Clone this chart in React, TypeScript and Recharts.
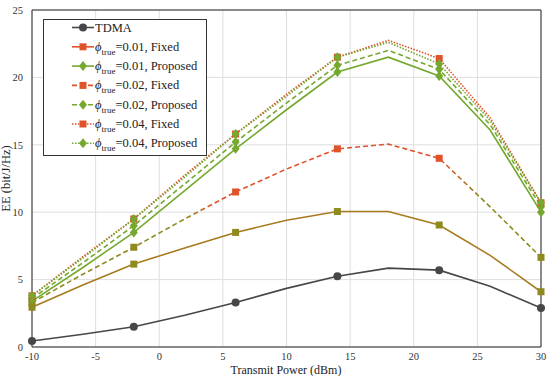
import React from 'react'
import { LineChart, Line, XAxis, YAxis, CartesianGrid, ReferenceLine } from 'recharts'

const powers = [-10, -6, -2, 2, 6, 10, 14, 18, 22, 26, 30]
const tdma = [0.45, 0.95, 1.5, 2.35, 3.3, 4.35, 5.25, 5.85, 5.7, 4.5, 2.9]
const fixed001 = [2.95, 4.6, 6.15, 7.35, 8.5, 9.4, 10.05, 10.05, 9.05, 6.8, 4.1]
const proposed001 = [3.4, 5.9, 8.5, 11.6, 14.7, 17.6, 20.4, 21.5, 20.1, 16.1, 10.0]
const fixed002 = [3.3, 5.4, 7.4, 9.5, 11.5, 13.2, 14.7, 15.05, 14.0, 10.4, 6.65]
const proposed002 = [3.6, 6.25, 9.0, 12.1, 15.2, 18.1, 20.9, 22.0, 20.6, 16.5, 10.4]
const fixed004 = [3.8, 6.7, 9.5, 12.75, 15.8, 18.75, 21.5, 22.75, 21.4, 17.0, 10.7]
const proposed004 = [3.8, 6.6, 9.5, 12.6, 15.8, 18.6, 21.5, 22.6, 21.0, 16.8, 10.7]

const xTicks = [-10, -5, 0, 5, 10, 15, 20, 25, 30]
const yTicks = [0, 5, 10, 15, 20, 25]

const data = powers.map((p, i) => ({
  p,
  tdma: tdma[i],
  f1: fixed001[i],
  p1: proposed001[i],
  f2: fixed002[i],
  p2: proposed002[i],
  f4: fixed004[i],
  p4: proposed004[i],
}))

const GREY = '#474747'
const ORANGE = '#e0522a'
const BROWN = '#a77b1d'
const OLIVE = '#8f8a1f'
const GREEN = '#74a82e'
const FONT = '"Liberation Serif", "Times New Roman", serif'

type Shape = 'circle' | 'square' | 'diamond'

function marker(shape: Shape, cx: number, cy: number, fill: string, key?: string | number) {
  if (shape === 'circle') return <circle key={key} cx={cx} cy={cy} r={4} fill={fill} />
  if (shape === 'square') return <rect key={key} x={cx - 3.5} y={cy - 3.5} width={7} height={7} fill={fill} />
  return <path key={key} d={`M${cx},${cy - 5}L${cx + 4},${cy}L${cx},${cy + 5}L${cx - 4},${cy}Z`} fill={fill} />
}

// markers only every other sample (-10, -2, 6, ...)
const dotFor = (shape: Shape, fill: string | ((i: number) => string)) => (props: any) => {
  const { cx, cy, index } = props
  if (index % 2 !== 0 || cx == null) return <g key={`n${index}`} />
  const c = typeof fill === 'function' ? fill(index) : fill
  return marker(shape, cx, cy, c, `d${index}`)
}

const legendItems = [
  { label: 'TDMA', color: GREY, dash: undefined as string | undefined, shape: 'circle' as Shape, phi: false },
  { label: '=0.01, Fixed', color: ORANGE, dash: undefined, shape: 'square' as Shape, phi: true },
  { label: '=0.01, Proposed', color: GREEN, dash: undefined, shape: 'diamond' as Shape, phi: true },
  { label: '=0.02, Fixed', color: ORANGE, dash: '5 3', shape: 'square' as Shape, phi: true },
  { label: '=0.02, Proposed', color: GREEN, dash: '5 3', shape: 'diamond' as Shape, phi: true },
  { label: '=0.04, Fixed', color: ORANGE, dash: '1.5 1.5', shape: 'square' as Shape, phi: true },
  { label: '=0.04, Proposed', color: GREEN, dash: '1.5 1.5', shape: 'diamond' as Shape, phi: true },
]

function LegendBox() {
  return (
    <svg width={164} height={137} style={{ position: 'absolute', left: 43, top: 19 }}>
      <rect x={0.5} y={0.5} width={163} height={136} fill="#fff" stroke="#333" strokeWidth={1} />
      {legendItems.map((it, i) => {
        const y = 8.5 + i * 19.3
        return (
          <g key={i}>
            <line x1={29} x2={51} y1={y} y2={y} stroke={it.color} strokeWidth={1.6} strokeDasharray={it.dash} />
            {marker(it.shape, 40, y, it.color)}
            <text x={52} y={y + 4} fontFamily={FONT} fontSize={12.5} fill="#222">
              {it.phi ? (
                <>
                  <tspan fontStyle="italic">ϕ</tspan>
                  <tspan dy={4} fontSize={9}>true</tspan>
                  <tspan dy={-4}>{it.label}</tspan>
                </>
              ) : (
                it.label
              )}
            </text>
          </g>
        )
      })}
    </svg>
  )
}

export default function App() {
  const tick = { fontSize: 10.5, fill: '#333', fontFamily: FONT }
  return (
    <div style={{ position: 'absolute', left: 0, top: 0, width: 550, height: 376, background: '#fff' }}>
      <LineChart width={550} height={376} data={data} margin={{ top: 10, right: 9, left: 0, bottom: 0 }}>
        <defs>
          <linearGradient id="fx2" x1="0" y1="0" x2="1" y2="0">
            <stop offset="0" stopColor={OLIVE} />
            <stop offset="0.3" stopColor={OLIVE} />
            <stop offset="0.36" stopColor={ORANGE} />
            <stop offset="0.8" stopColor={ORANGE} />
            <stop offset="0.88" stopColor={OLIVE} />
            <stop offset="1" stopColor={OLIVE} />
          </linearGradient>
        </defs>
        <CartesianGrid stroke="#dedede" strokeWidth={1} />
        <XAxis
          dataKey="p"
          type="number"
          domain={[-10, 30]}
          ticks={xTicks}
          height={29}
          tick={tick}
          tickLine={false}
          tickMargin={0}
          axisLine={{ stroke: '#262626' }}
          label={{
            content: () => (
              <text x={286} y={373.5} textAnchor="middle" fontSize={12} fill="#222" fontFamily={FONT}>
                Transmit Power (dBm)
              </text>
            ),
          }}
        />
        <YAxis
          type="number"
          domain={[0, 25]}
          ticks={yTicks}
          width={32}
          tick={tick}
          tickLine={false}
          tickMargin={3}
          axisLine={{ stroke: '#262626' }}
          label={{ value: 'EE (bit/J/Hz)', angle: -90, position: 'insideLeft', offset: 6, fontSize: 12.5, fill: '#222', fontFamily: FONT, style: { textAnchor: 'middle' } }}
        />
        <ReferenceLine x={30} stroke="#262626" />
        <ReferenceLine y={25} stroke="#262626" />
        <Line dataKey="tdma" stroke={GREY} strokeWidth={1.6} dot={dotFor('circle', GREY)} isAnimationActive={false} />
        <Line dataKey="f1" stroke={BROWN} strokeWidth={1.6} dot={dotFor('square', OLIVE)} isAnimationActive={false} />
        <Line dataKey="p1" stroke={GREEN} strokeWidth={1.6} dot={dotFor('diamond', GREEN)} isAnimationActive={false} />
        <Line
          dataKey="f2"
          stroke="url(#fx2)"
          strokeWidth={1.6}
          strokeDasharray="5 3"
          dot={dotFor('square', (i) => (i >= 4 && i <= 8 ? ORANGE : OLIVE))}
          isAnimationActive={false}
        />
        <Line dataKey="p2" stroke={GREEN} strokeWidth={1.6} strokeDasharray="5 3" dot={dotFor('diamond', GREEN)} isAnimationActive={false} />
        <Line dataKey="f4" stroke={ORANGE} strokeWidth={1.6} strokeDasharray="1.5 1.5" dot={dotFor('square', ORANGE)} isAnimationActive={false} />
        <Line dataKey="p4" stroke={GREEN} strokeWidth={1.6} strokeDasharray="1.5 1.5" dot={dotFor('diamond', GREEN)} isAnimationActive={false} />
      </LineChart>
      <LegendBox />
    </div>
  )
}
